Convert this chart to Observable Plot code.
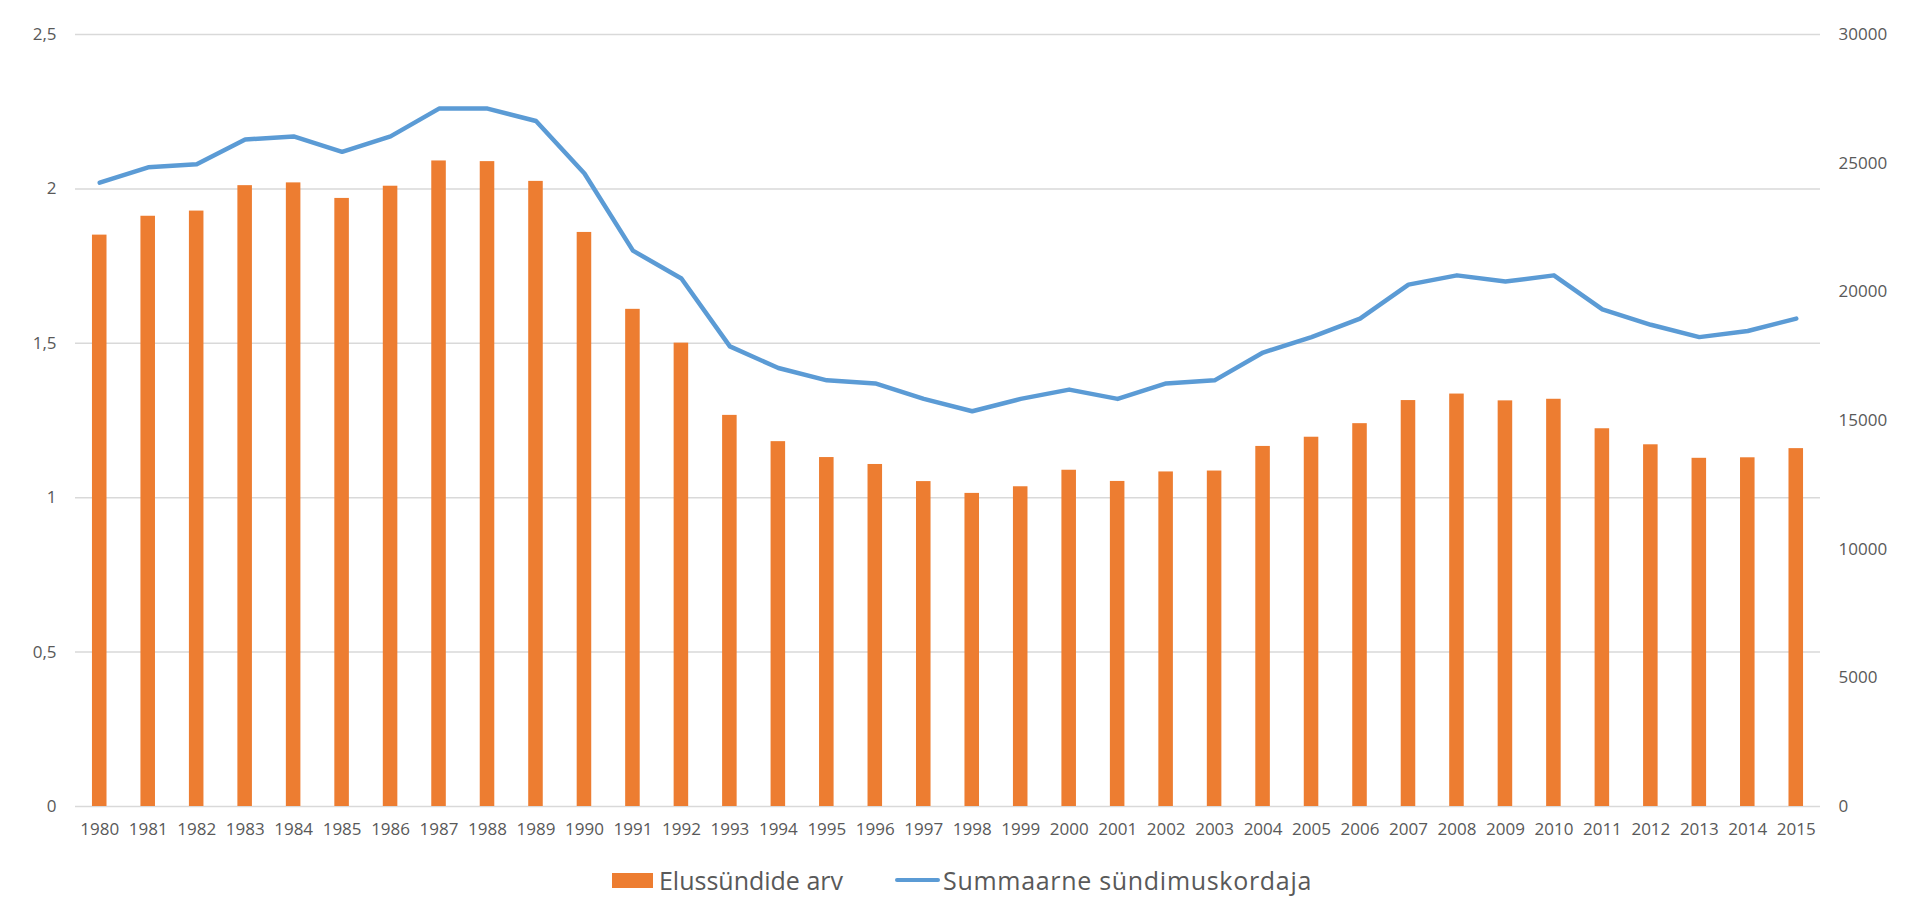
<!DOCTYPE html>
<html>
<head>
<meta charset="utf-8">
<script src="https://cdn.jsdelivr.net/npm/d3@7"></script>
<script src="https://cdn.jsdelivr.net/npm/@observablehq/plot@0.6"></script>
<style>
  html, body { margin: 0; padding: 0; background: #fff; }
  #chart svg { display: block; }
  #legend {
    height: 50px; display: flex; align-items: center; justify-content: center;
    font-family: "Open Sans", sans-serif; font-size: 25px; color: #595959;
    padding-left: 4px;
  }
  .item { display: flex; align-items: center; }
  .sw-bar { width: 41px; height: 15px; background: #ED7D31; margin-right: 6px; }
  .sw-line { width: 45px; height: 4px; background: #5B9BD5; margin-right: 3px; border-radius: 2px; }
  #l2 { letter-spacing: 0.7px; }
</style>
</head>
<body>
<div id="chart"></div>
<div id="legend">
  <div class="item" style="margin-right:52px"><div class="sw-bar"></div><span id="l1"></span></div>
  <div class="item"><div class="sw-line"></div><span id="l2"></span></div>
</div>
<script>
const years = [1980,1981,1982,1983,1984,1985,1986,1987,1988,1989,1990,1991,1992,1993,1994,1995,1996,1997,1998,1999,2000,2001,2002,2003,2004,2005,2006,2007,2008,2009,2010,2011,2012,2013,2014,2015];
const births = [22204,22937,23138,24126,24234,23630,24104,25086,25060,24292,22308,19320,18006,15199,14178,13560,13291,12626,12167,12425,13067,12632,13001,13036,13992,14350,14877,15775,16028,15763,15825,14679,14056,13531,13551,13907];
const tfr = [2.02,2.07,2.08,2.16,2.17,2.12,2.17,2.26,2.26,2.22,2.05,1.80,1.71,1.49,1.42,1.38,1.37,1.32,1.28,1.32,1.35,1.32,1.37,1.38,1.47,1.52,1.58,1.69,1.72,1.70,1.72,1.61,1.56,1.52,1.54,1.58];
const leftTicks = [0, 0.5, 1, 1.5, 2, 2.5];
const leftTickLabels = ["0", "0,5", "1", "1,5", "2", "2,5"];
const rightTicks = [0, 5000, 10000, 15000, 20000, 25000, 30000];
const seriesNames = ["Elussündide arv", "Summaarne sündimuskordaja"];

document.getElementById("l1").textContent = seriesNames[0];
document.getElementById("l2").textContent = seriesNames[1];

const k = 2.5 / 30000; // right axis -> left axis
const rows = years.map((y, i) => ({year: String(y), births: births[i], b: births[i] * k, tfr: tfr[i]}));

const textColor = "#595959";
const chart = Plot.plot({
  width: 1920,
  height: 855,
  marginLeft: 75,
  marginRight: 100,
  marginTop: 34,
  marginBottom: 49,
  style: {fontFamily: "'Open Sans', sans-serif", fontSize: "17px", color: textColor, background: "#fff"},
  x: {type: "band", domain: years.map(String), paddingInner: 0.7, paddingOuter: 0.35, round: false},
  y: {domain: [0, 2.5]},
  marks: [
    Plot.gridY(leftTicks, {stroke: "#D9D9D9", strokeOpacity: 1, strokeWidth: 1.5}),
    Plot.barY(rows, {x: "year", y: "b", fill: "#ED7D31"}),
    Plot.line(rows, {x: "year", y: "tfr", stroke: "#5B9BD5", strokeWidth: 4.5, strokeLinejoin: "round", strokeLinecap: "round"}),
    Plot.axisY(leftTicks, {anchor: "left", tickSize: 0, tickPadding: 19, label: null,
      tickFormat: d => leftTickLabels[leftTicks.indexOf(d)], fill: textColor}),
    Plot.axisY(rightTicks.map(v => v * k), {anchor: "right", tickSize: 0, tickPadding: 18, label: null,
      tickFormat: d => String(Math.round(d / k)), fill: textColor}),
    Plot.axisX({anchor: "bottom", tickSize: 0, tickPadding: 16, label: null, fill: textColor})
  ]
});
document.getElementById("chart").appendChild(chart);
</script>
</body>
</html>
